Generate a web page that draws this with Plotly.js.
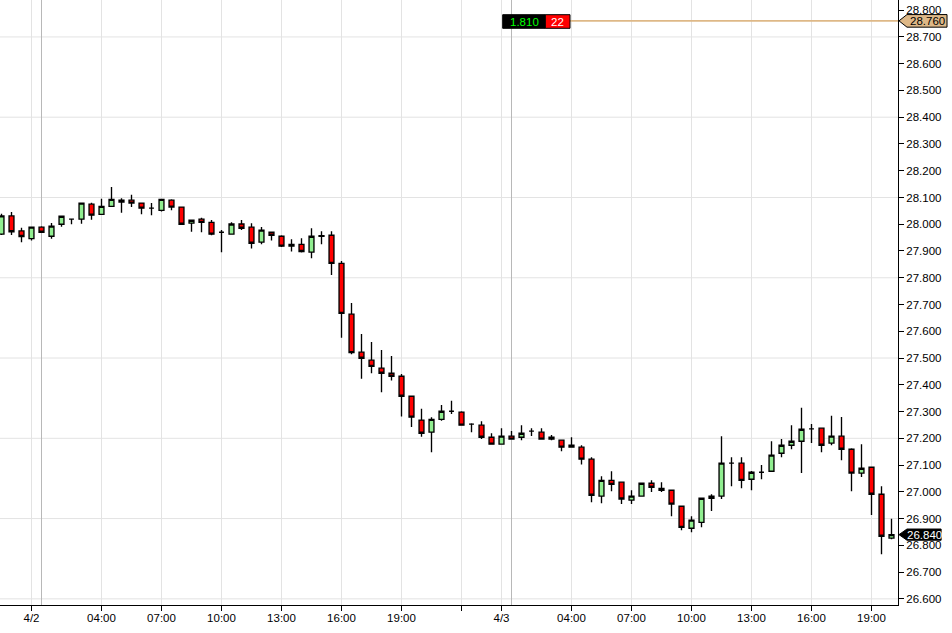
<!DOCTYPE html>
<html>
<head>
<meta charset="utf-8">
<script src="https://cdn.plot.ly/plotly-3.0.1.min.js"></script>
<style>
html,body{margin:0;padding:0;background:#fff;}
#chart{width:952px;height:633px;}
</style>
</head>
<body>
<div id="chart"></div>
<script>
// 30-minute candles, 4/1 late evening through 4/3 ~20:00
const opens = [27.963,28.031,27.975,27.946,27.989,27.955,28.000,28.019,28.019,28.075,
28.037,28.067,28.083,28.090,28.079,28.060,28.052,28.090,28.064,28.004,
28.019,28.007,27.970,27.963,28.001,27.989,27.933,27.970,27.955,27.918,
27.925,27.896,27.955,27.959,27.854,27.664,27.522,27.492,27.462,27.443,
27.432,27.357,27.268,27.223,27.271,27.301,27.298,27.253,27.249,27.204,
27.178,27.208,27.204,27.227,27.223,27.204,27.193,27.167,27.167,27.122,
26.984,27.043,27.036,26.969,26.984,27.032,27.013,27.006,26.946,26.864,
26.886,26.976,26.984,27.107,27.107,27.047,27.073,27.077,27.144,27.174,
27.189,27.235,27.238,27.182,27.208,27.159,27.070,27.092,26.991,26.827];
const highs = [28.039,28.046,27.987,27.991,27.992,28.005,28.030,28.019,28.081,28.080,
28.095,28.139,28.097,28.110,28.079,28.079,28.093,28.093,28.064,28.015,
28.024,28.016,27.978,28.007,28.016,28.004,27.990,27.970,27.959,27.944,
27.948,27.985,27.974,27.974,27.863,27.706,27.590,27.560,27.530,27.508,
27.440,27.357,27.310,27.279,27.324,27.340,27.301,27.256,27.264,27.219,
27.238,27.227,27.249,27.238,27.238,27.212,27.193,27.204,27.174,27.129,
27.058,27.077,27.036,27.006,27.032,27.043,27.036,27.006,26.946,26.909,
26.976,26.991,27.208,27.129,27.129,27.078,27.100,27.189,27.197,27.249,
27.314,27.253,27.238,27.284,27.280,27.163,27.178,27.092,27.021,26.899];
const lows = [27.960,27.960,27.933,27.939,27.968,27.946,27.991,28.000,28.002,28.017,
28.037,28.067,28.043,28.064,28.037,28.034,28.048,28.052,28.000,27.972,
27.970,27.959,27.895,27.963,27.978,27.909,27.925,27.939,27.915,27.898,
27.894,27.873,27.925,27.810,27.576,27.514,27.423,27.443,27.372,27.416,
27.281,27.242,27.206,27.148,27.266,27.291,27.249,27.223,27.197,27.178,
27.178,27.197,27.193,27.209,27.197,27.193,27.152,27.167,27.102,26.961,
26.957,27.002,26.954,26.954,26.984,26.999,26.999,26.909,26.856,26.849,
26.868,26.928,26.973,27.021,27.013,27.006,27.047,27.077,27.129,27.159,
27.070,27.182,27.148,27.174,27.118,27.002,27.055,26.913,26.767,26.823];
const closes = [28.031,27.972,27.954,27.989,27.970,27.993,28.030,28.019,28.079,28.034,
28.067,28.093,28.090,28.079,28.060,28.060,28.093,28.064,28.000,28.015,
28.007,27.963,27.970,28.001,27.985,27.929,27.978,27.959,27.918,27.925,
27.898,27.955,27.957,27.854,27.667,27.520,27.499,27.469,27.443,27.432,
27.357,27.279,27.219,27.271,27.301,27.301,27.249,27.253,27.204,27.178,
27.208,27.197,27.219,27.227,27.197,27.197,27.167,27.174,27.122,26.987,
27.043,27.028,26.973,26.984,27.032,27.017,27.006,26.954,26.867,26.894,
26.976,26.984,27.107,27.107,27.043,27.073,27.073,27.137,27.174,27.189,
27.234,27.235,27.174,27.208,27.159,27.070,27.088,26.991,26.834,26.840];

// x-axis ticks (bar index -> label)
const tickBars   = [3, 10, 16, 22, 28, 34, 40, 46, 50, 57, 63, 69, 75, 81, 87];
const tickLabels = ['4/2','04:00','07:00','10:00','13:00','16:00','19:00','','4/3','04:00','07:00','10:00','13:00','16:00','19:00'];
const sessionBars = [4, 51];
const gridLevels = [26.6, 26.9, 27.2, 27.5, 27.8, 28.1, 28.4, 28.7];
const alertLevel = 28.760;
const lastPrice = 26.840;
const infoLeft = '1.810';
const infoRight = '22';

const xs = opens.map((_, i) => i);
const yRange = [26.577, 28.838];
const xRange = [-0.15, 89.65];
const toPaperY = v => (v - yRange[0]) / (yRange[1] - yRange[0]);

const trace = {
  type: 'candlestick',
  x: xs, open: opens, high: highs, low: lows, close: closes,
  increasing: {line: {color: '#000', width: 1.35}, fillcolor: '#90ee90'},
  decreasing: {line: {color: '#000', width: 1.35}, fillcolor: '#ff0000'},
  whiskerwidth: 0,
  hoverinfo: 'skip',
  showlegend: false
};

const shapes = [];
gridLevels.forEach(g => shapes.push({type:'line', xref:'paper', yref:'y', x0:0, x1:1, y0:g, y1:g,
  line:{color:'#e3e3e3', width:1}, layer:'below'}));
sessionBars.forEach(b => shapes.push({type:'line', xref:'x', yref:'paper', x0:b, x1:b, y0:0, y1:1,
  line:{color:'#b8b8b8', width:1}, layer:'below'}));
// alert line
shapes.push({type:'line', xref:'x', yref:'y', x0:56.85, x1:xRange[1], y0:alertLevel, y1:alertLevel,
  line:{color:'#deb887', width:1.6}, layer:'above'});
// info boxes
const bTop = 1 - 14.7/605, bBot = 1 - 28.3/605;
shapes.push({type:'rect', xref:'x', yref:'paper', x0:50.12, x1:54.38, y0:bBot, y1:bTop,
  fillcolor:'#000', line:{color:'#000', width:1}, layer:'above'});
shapes.push({type:'rect', xref:'x', yref:'paper', x0:54.38, x1:56.85, y0:bBot, y1:bTop,
  fillcolor:'#ff0000', line:{color:'#000', width:1}, layer:'above'});
// price tags on right
function tag(v, halfPx, x1, fill) {
  const yc = toPaperY(v), h = halfPx / 605;
  const xt = 1.0011, xb = 1.0100;
  return {type:'path', xref:'paper', yref:'paper',
    path:`M ${xt},${yc} L ${xb},${yc+h} L ${x1},${yc+h} L ${x1},${yc-h} L ${xb},${yc-h} Z`,
    fillcolor: fill, line:{color:'#000', width:1}, layer:'above'};
}
shapes.push(tag(alertLevel, 6.3, 1.0546, '#deb887'));
shapes.push(tag(lastPrice, 5.6, 1.0480, '#000'));

const annotations = [
  {xref:'x', yref:'paper', x:52.25, y:(bTop+bBot)/2, text:infoLeft, showarrow:false,
   font:{color:'#00ff00', size:11.5}, xanchor:'center', yanchor:'middle'},
  {xref:'x', yref:'paper', x:55.6, y:(bTop+bBot)/2, text:infoRight, showarrow:false,
   font:{color:'#ffffff', size:11.5}, xanchor:'center', yanchor:'middle'},
  {xref:'paper', yref:'paper', x:1.0323, y:toPaperY(alertLevel), text:alertLevel.toFixed(3), showarrow:false,
   font:{color:'#000', size:11.5}, xanchor:'center', yanchor:'middle'},
  {xref:'paper', yref:'paper', x:1.0290, y:toPaperY(lastPrice), text:lastPrice.toFixed(3), showarrow:false,
   font:{color:'#fff', size:11.5}, xanchor:'center', yanchor:'middle'}
];

const layout = {
  width: 952, height: 633,
  margin: {l:0, r:54, t:0, b:28, pad:0},
  paper_bgcolor: '#fff', plot_bgcolor: '#fff',
  font: {family: '"Liberation Sans", Arial, sans-serif', size: 11, color: '#000'},
  showlegend: false,
  xaxis: {
    type: 'linear', range: xRange, rangeslider: {visible: false},
    tickmode: 'array', tickvals: tickBars, ticktext: tickLabels,
    ticks: 'outside', ticklen: 5, tickcolor: '#000', tickwidth: 1,
    ticklabelstandoff: -3,
    showline: true, linecolor: '#000', linewidth: 1,
    showgrid: true, gridcolor: '#e3e3e3', gridwidth: 1, zeroline: false,
    tickfont: {size: 11.5, color: '#000'}, fixedrange: true
  },
  yaxis: {
    side: 'right', range: yRange, dtick: 0.1, tick0: 26.6, tickformat: '.3f',
    ticks: 'outside', ticklen: 5, tickcolor: '#000', tickwidth: 1,
    showline: true, linecolor: '#000', linewidth: 1,
    showgrid: false, zeroline: false,
    tickfont: {size: 11.5, color: '#000'}, fixedrange: true
  },
  shapes: shapes,
  annotations: annotations
};

Plotly.newPlot('chart', [trace], layout, {displayModeBar: false, staticPlot: true});
</script>
</body>
</html>
